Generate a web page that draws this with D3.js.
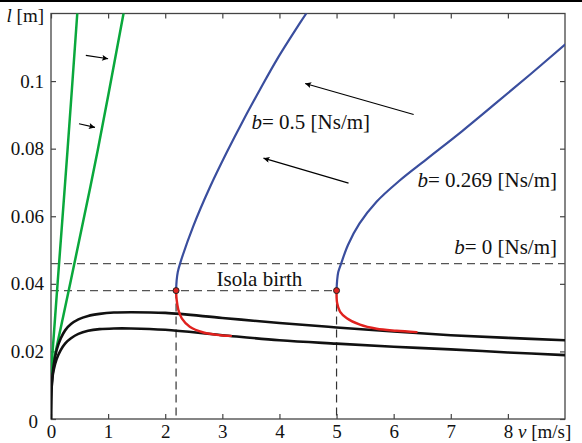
<!DOCTYPE html>
<html>
<head>
<meta charset="utf-8">
<script src="https://cdn.jsdelivr.net/npm/d3@7"></script>
<style>
  body { margin: 0; background: #fff; }
  text { font-family: "Liberation Serif", "Times New Roman", serif; }
</style>
</head>
<body>
<div id="chart"></div>
<script>
// tick values and labels
var xTicks = [0, 1, 2, 3, 4, 5, 6, 7, 8];
var yTicks = [0, 0.02, 0.04, 0.06, 0.08, 0.1];
var yTickLabels = ["0", "0.02", "0.04", "0.06", "0.08", "0.1"];

// curves as [v, l]
var greenLeft = [[0, 0.0135], [0.12, 0.0412], [0.29, 0.0797], [0.46, 0.12]];
var greenRight = [[0, 0.0135], [0.35, 0.0412], [0.82, 0.0797], [1.27, 0.12]];

var blackUpper = [[0, 0], [0.003, 0.005], [0.01, 0.009], [0.025, 0.0125], [0.05, 0.0163],
  [0.1, 0.0205], [0.17, 0.0238], [0.25, 0.0263], [0.35, 0.0281], [0.48, 0.0295], [0.65, 0.0305],
  [0.85, 0.0311], [1.1, 0.0315], [1.4, 0.0316], [2, 0.0314], [3, 0.0299], [4, 0.0284],
  [5, 0.0271], [6, 0.0259], [7, 0.0248], [8, 0.024], [9, 0.0233]];
var blackLower = [[0, 0], [0.003, 0.005], [0.01, 0.009], [0.025, 0.0122], [0.05, 0.0147],
  [0.1, 0.0178], [0.17, 0.0204], [0.25, 0.0224], [0.35, 0.0239], [0.48, 0.0252], [0.65, 0.0261],
  [0.85, 0.0266], [1.1, 0.0268], [1.4, 0.0268], [2, 0.0264], [3, 0.0248], [4, 0.0233],
  [5, 0.0223], [6, 0.0214], [7, 0.0206], [8, 0.0197], [9, 0.0189]];

var blue05 = [[2.19, 0.038], [2.2, 0.041], [2.22, 0.0435], [2.26, 0.046], [2.49, 0.057],
  [2.78, 0.0685], [3.08, 0.079], [3.37, 0.0885], [3.66, 0.0975], [3.95, 0.1062],
  [4.36, 0.1172], [4.47, 0.12]];
var blue0269 = [[5.0, 0.038], [5.01, 0.041], [5.03, 0.0435], [5.08, 0.046], [5.2, 0.0515],
  [5.4, 0.0578], [5.7, 0.0643], [6.1, 0.0705], [6.6, 0.0772], [7.2, 0.0852], [7.8, 0.0936],
  [8.4, 0.1021], [9, 0.1108]];

var red05 = [[2.19, 0.038], [2.2, 0.0353], [2.23, 0.0323], [2.29, 0.0298], [2.43, 0.0273],
  [2.67, 0.0256], [2.96, 0.0248], [3.15, 0.0246]];
var red0269 = [[5.0, 0.038], [5.01, 0.0343], [5.06, 0.0318], [5.18, 0.0298], [5.41, 0.0279],
  [5.7, 0.0267], [6.05, 0.0261], [6.4, 0.0257]];

var birthPoints = [[2.19, 0.038], [5.0, 0.038]];
var bZero = 0.046;

var arrows = [
  [[0.61, 0.1076], [1.0, 0.1066]],
  [[0.49, 0.0874], [0.77, 0.0863]],
  [[6.35, 0.0901], [4.45, 0.0993]],
  [[5.21, 0.0698], [3.72, 0.0772]]
];

var labels = [
  {b: "b", rest: "= 0.5 [Ns/m]", v: 3.51, l: 0.0857, anchor: "start"},
  {b: "b", rest: "= 0.269 [Ns/m]", v: 8.86, l: 0.0688, anchor: "end"},
  {b: "b", rest: "= 0 [Ns/m]", v: 8.86, l: 0.0488, anchor: "end"},
  {b: "", rest: "Isola birth", v: 2.9, l: 0.0394, anchor: "start"}
];

var W = 582, H = 443;
var svg = d3.select("#chart").append("svg")
  .attr("width", W).attr("height", H);

// page rule at the top
svg.append("rect").attr("x", 0).attr("y", 0).attr("width", W).attr("height", 2).attr("fill", "#000");

var x = d3.scaleLinear().domain([0, 9]).range([51, 565]);
var y = d3.scaleLinear().domain([0, 0.12]).range([419, 13.5]);

var defs = svg.append("defs");
defs.append("marker")
  .attr("id", "head")
  .attr("viewBox", "0 0 10 10")
  .attr("refX", 10).attr("refY", 5)
  .attr("markerWidth", 10).attr("markerHeight", 6)
  .attr("markerUnits", "userSpaceOnUse")
  .attr("orient", "auto")
  .append("path").attr("d", "M0,0 L10,5 L0,10 L2,5 Z").attr("fill", "#000");

defs.append("clipPath").attr("id", "plot")
  .append("rect").attr("x", 51).attr("y", 13.5).attr("width", 514).attr("height", 405.5);

// frame
svg.append("rect")
  .attr("x", x(0)).attr("y", y(0.12))
  .attr("width", x(9) - x(0)).attr("height", y(0) - y(0.12))
  .attr("fill", "none").attr("stroke", "#444").attr("stroke-width", 1.3);

// axes with inward ticks
var gx = svg.append("g").attr("transform", "translate(0," + y(0) + ")")
  .call(d3.axisBottom(x).tickValues(xTicks).tickSize(-5).tickPadding(8).tickFormat(d3.format("d")));
var gxTop = svg.append("g").attr("transform", "translate(0," + y(0.12) + ")")
  .call(d3.axisTop(x).tickValues(xTicks).tickSize(-5).tickFormat(""));
var gy = svg.append("g").attr("transform", "translate(" + x(0) + ",0)")
  .call(d3.axisLeft(y).tickValues(yTicks).tickSize(-5).tickPadding(7)
    .tickFormat(function(d, i) { return yTickLabels[i]; }));
var gyRight = svg.append("g").attr("transform", "translate(" + x(9) + ",0)")
  .call(d3.axisRight(y).tickValues(yTicks).tickSize(-5).tickFormat(""));

[gx, gxTop, gy, gyRight].forEach(function(g) {
  g.select(".domain").remove();
  g.selectAll(".tick line").attr("stroke", "#444").attr("stroke-width", 1.2);
  g.selectAll("text").attr("fill", "#111").style("font-size", "19px")
    .style("font-family", "'Liberation Serif', serif");
});
gx.selectAll("text").attr("dy", "0.58em");
gy.selectAll(".tick").filter(function(d) { return d === 0; })
  .select("text").attr("dx", -6).attr("dy", "0.45em");

// axis labels
var yl = svg.append("text").attr("x", 44).attr("y", 22).attr("text-anchor", "end")
  .style("font-size", "19px").attr("fill", "#111");
yl.append("tspan").style("font-style", "italic").text("l");
yl.append("tspan").text(" [m]");
var xl = svg.append("text").attr("x", 518).attr("y", 438)
  .style("font-size", "19px").attr("fill", "#111");
xl.append("tspan").style("font-style", "italic").text("v");
xl.append("tspan").text(" [m/s]");

var plot = svg.append("g").attr("clip-path", "url(#plot)");

// dashed guides
plot.append("line")
  .attr("x1", x(0)).attr("x2", x(9)).attr("y1", y(bZero)).attr("y2", y(bZero))
  .attr("stroke", "#555").attr("stroke-width", 1.3).attr("stroke-dasharray", "8,5");
plot.append("line")
  .attr("x1", x(0)).attr("x2", x(birthPoints[1][0]))
  .attr("y1", y(birthPoints[0][1])).attr("y2", y(birthPoints[0][1]))
  .attr("stroke", "#555").attr("stroke-width", 1.3).attr("stroke-dasharray", "8,5");
plot.selectAll(".vdash").data(birthPoints).enter().append("line")
  .attr("x1", function(d) { return x(d[0]); }).attr("x2", function(d) { return x(d[0]); })
  .attr("y1", function(d) { return y(d[1]); }).attr("y2", y(0))
  .attr("stroke", "#333").attr("stroke-width", 1.2).attr("stroke-dasharray", "8,5");

var line = d3.line()
  .x(function(d) { return x(d[0]); })
  .y(function(d) { return y(d[1]); })
  .curve(d3.curveCatmullRom.alpha(0.5));

function drawCurve(data, color, w) {
  plot.append("path").datum(data).attr("d", line)
    .attr("fill", "none").attr("stroke", color).attr("stroke-width", w)
    .attr("stroke-linecap", "round");
}

drawCurve(greenLeft, "#0aa83c", 2.5);
drawCurve(greenRight, "#0aa83c", 2.5);
drawCurve(blackUpper, "#111", 2.6);
drawCurve(blackLower, "#111", 2.6);
drawCurve(blue05, "#3a4e9e", 2.2);
drawCurve(blue0269, "#3a4e9e", 2.2);
drawCurve(red05, "#e0211e", 2.4);
drawCurve(red0269, "#e0211e", 2.4);

plot.selectAll(".dot").data(birthPoints).enter().append("circle")
  .attr("cx", function(d) { return x(d[0]); }).attr("cy", function(d) { return y(d[1]); })
  .attr("r", 3).attr("fill", "#e0211e").attr("stroke", "#222").attr("stroke-width", 1);

// arrows
svg.selectAll(".arrow").data(arrows).enter().append("line")
  .attr("x1", function(d) { return x(d[0][0]); }).attr("y1", function(d) { return y(d[0][1]); })
  .attr("x2", function(d) { return x(d[1][0]); }).attr("y2", function(d) { return y(d[1][1]); })
  .attr("stroke", "#000").attr("stroke-width", 1.1)
  .attr("marker-end", "url(#head)");

// annotations
labels.forEach(function(d) {
  var t = svg.append("text").attr("x", x(d.v)).attr("y", y(d.l))
    .attr("text-anchor", d.anchor).style("font-size", "21px").attr("fill", "#111");
  if (d.b) t.append("tspan").style("font-style", "italic").text(d.b);
  t.append("tspan").text(d.rest);
});
</script>
</body>
</html>
